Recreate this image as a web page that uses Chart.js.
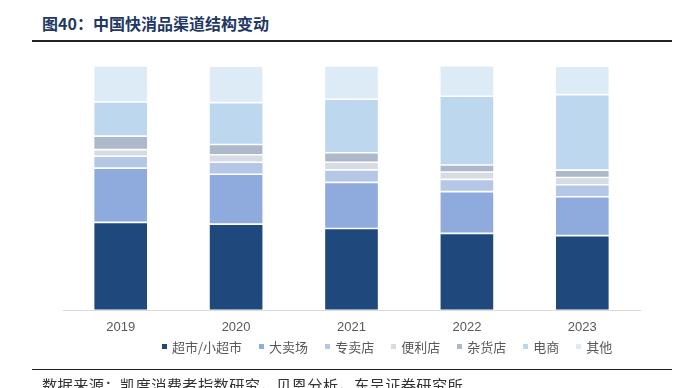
<!DOCTYPE html>
<html>
<head>
<meta charset="utf-8">
<script src="https://cdn.jsdelivr.net/npm/chart.js@4.4.1/dist/chart.umd.min.js"></script>
<style>
  html, body { margin:0; padding:0; background:#fff; }
  #wrap { position:relative; width:677px; height:388px; overflow:hidden; font-family:"Noto Sans CJK SC","Noto Sans",sans-serif; }
  #title { position:absolute; left:42px; top:11px; font-size:16px; font-weight:bold; color:#1F3864; white-space:nowrap; letter-spacing:0px; }
  #line1 { position:absolute; left:32px; width:640px; top:40px; height:1.5px; background:#222; }
  #line2 { position:absolute; left:32px; width:640px; top:368.5px; height:1.5px; background:#222; }
  #foot { position:absolute; left:42px; top:373px; font-size:15.3px; color:#333; white-space:nowrap; letter-spacing:0.3px; }
  #legend { position:absolute; left:162px; top:337px; display:flex; align-items:center; font-size:13px; color:#595959; white-space:nowrap; }
  .item { display:flex; align-items:center; margin-right:17px; }
  .mk { width:5px; height:5px; margin-right:5px; }
  canvas { position:absolute; left:0; top:0; }
</style>
</head>
<body>
<div id="wrap">
  <div id="title">图40：中国快消品渠道结构变动</div>
  <div id="line1"></div>
  <canvas id="c" width="677" height="388"></canvas>
  <div id="legend"></div>
  <div id="line2"></div>
  <div id="foot">数据来源：凯度消费者指数研究，贝恩分析，东吴证券研究所</div>
</div>
<script>
const categories = ["2019", "2020", "2021", "2022", "2023"];
const seriesNames = ["超市/小超市", "大卖场", "专卖店", "便利店", "杂货店", "电商", "其他"];
const supermarket = [36.0, 35.3, 33.5, 31.5, 30.6];
const hypermarket = [22.2, 20.4, 18.9, 17.1, 15.9];
const specialty   = [4.9, 4.9, 5.1, 5.0, 4.9];
const convenience = [2.7, 3.1, 3.1, 3.0, 3.0];
const grocery     = [5.5, 4.2, 3.9, 2.9, 3.0];
const ecommerce   = [14.0, 17.1, 21.9, 28.1, 30.9];
const others      = [14.7, 14.9, 13.6, 12.5, 11.6];
const colors = ["#1F497D", "#8FAADC", "#B4C7E7", "#D6DCE4", "#ADB9CA", "#BDD7EE", "#DDEBF7"];

const seriesValues = [supermarket, hypermarket, specialty, convenience, grocery, ecommerce, others];

const datasets = seriesValues.map((vals, i) => ({
  label: seriesNames[i],
  data: vals,
  backgroundColor: colors[i],
  borderColor: "#ffffff",
  borderWidth: 0.8,
  borderSkipped: false,
  barPercentage: 0.94,
  categoryPercentage: 0.5
}));

new Chart(document.getElementById("c"), {
  type: "bar",
  data: { labels: categories, datasets },
  options: {
    responsive: false,
    animation: false,
    layout: { padding: { left: 63, right: 37, top: 66, bottom: 44 } },
    plugins: { legend: { display: false }, tooltip: { enabled: false }, title: { display: false } },
    scales: {
      x: {
        stacked: true,
        grid: { display: false, drawTicks: false },
        border: { display: true, color: "#D9D9D9", width: 1 },
        ticks: { color: "#595959", font: { family: "'Liberation Sans', Arial, sans-serif", size: 13 }, padding: 9 }
      },
      y: {
        stacked: true,
        display: false,
        min: 0,
        max: 100
      }
    }
  }
});

const lg = document.getElementById("legend");
seriesNames.forEach((n, i) => {
  const it = document.createElement("div");
  it.className = "item";
  const mk = document.createElement("span");
  mk.className = "mk";
  mk.style.background = colors[i];
  const tx = document.createElement("span");
  tx.textContent = n;
  it.appendChild(mk); it.appendChild(tx);
  lg.appendChild(it);
});
</script>
</body>
</html>
